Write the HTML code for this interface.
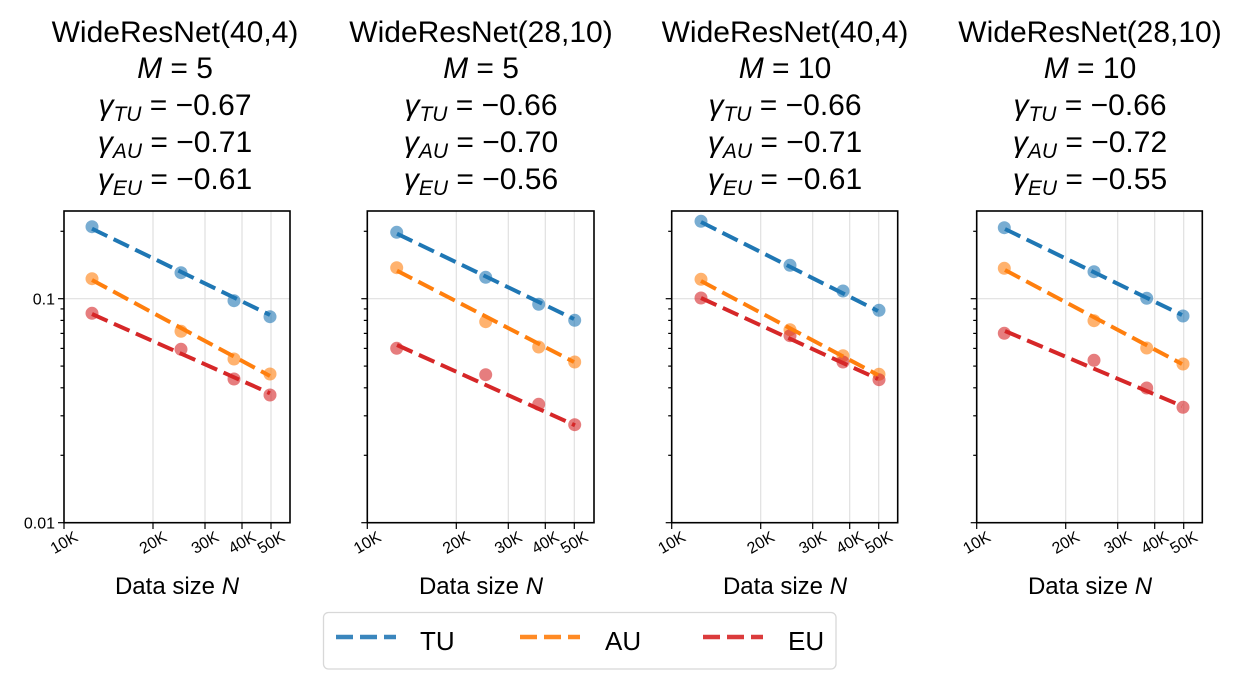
<!DOCTYPE html>
<html><head><meta charset="utf-8"><style>
body{margin:0;background:#fff;}
svg{display:block;font-family:"Liberation Sans","DejaVu Sans",sans-serif;}
.t{font-size:30px;text-anchor:middle;fill:#000}
.tk{font-size:16px;fill:#000}
.xl{font-size:24px;text-anchor:middle}
</style></head><body>
<svg width="1249" height="684" viewBox="0 0 1249 684" xmlns="http://www.w3.org/2000/svg">
<defs>
<g id="yticks">
<line x1="-3.5" x2="0" y1="455.3" y2="455.3"/><line x1="-3.5" x2="0" y1="415.8" y2="415.8"/>
<line x1="-3.5" x2="0" y1="387.8" y2="387.8"/><line x1="-3.5" x2="0" y1="366.1" y2="366.1"/>
<line x1="-3.5" x2="0" y1="348.4" y2="348.4"/><line x1="-3.5" x2="0" y1="333.4" y2="333.4"/>
<line x1="-3.5" x2="0" y1="320.4" y2="320.4"/><line x1="-3.5" x2="0" y1="308.9" y2="308.9"/>
<line x1="-3.5" x2="0" y1="231.3" y2="231.3"/>
<line x1="-6" x2="0" y1="298.7" y2="298.7"/><line x1="-6" x2="0" y1="522.7" y2="522.7"/>
</g>
<g id="axbits">
<g stroke="#e0e0e0" stroke-width="1.2"><line x1="89" x2="89" y1="211" y2="522.7"/><line x1="141" x2="141" y1="211" y2="522.7"/><line x1="178" x2="178" y1="211" y2="522.7"/><line x1="207" x2="207" y1="211" y2="522.7"/><line x1="0" x2="226" y1="298.7" y2="298.7"/></g>
<g stroke="#000" stroke-width="1.2"><use href="#yticks"/><line x1="0" x2="0" y1="522.7" y2="529"/><line x1="89" x2="89" y1="522.7" y2="529"/><line x1="141" x2="141" y1="522.7" y2="529"/><line x1="178" x2="178" y1="522.7" y2="529"/><line x1="207" x2="207" y1="522.7" y2="529"/></g>
<g class="tk" text-anchor="end">
<text transform="translate(15,540) rotate(-30)">10K</text>
<text transform="translate(104,540) rotate(-30)">20K</text>
<text transform="translate(156,540) rotate(-30)">30K</text>
<text transform="translate(193,540) rotate(-30)">40K</text>
<text transform="translate(222,540) rotate(-30)">50K</text>
</g>
</g>
</defs>
<use href="#axbits" transform="translate(64,0)"/>
<use href="#axbits" transform="translate(367.3,0)"/>
<use href="#axbits" transform="translate(671.7,0)"/>
<use href="#axbits" transform="translate(976.7,0)"/>

<g fill-opacity="0.6">
<g fill="#1f77b4"><circle cx="92" cy="226.7" r="6.5"/><circle cx="181" cy="272.7" r="6.5"/><circle cx="234" cy="300.7" r="6.5"/><circle cx="270" cy="316.7" r="6.5"/></g>
<g fill="#ff7f0e"><circle cx="92" cy="278.7" r="6.5"/><circle cx="181" cy="331.3" r="6.5"/><circle cx="234" cy="359" r="6.5"/><circle cx="270" cy="374" r="6.5"/></g>
<g fill="#d62728"><circle cx="92" cy="313.3" r="6.5"/><circle cx="181" cy="349.3" r="6.5"/><circle cx="234" cy="379" r="6.5"/><circle cx="270" cy="395" r="6.5"/></g>

<g fill="#1f77b4"><circle cx="396.7" cy="232.3" r="6.5"/><circle cx="485.7" cy="277.3" r="6.5"/><circle cx="538.7" cy="304.3" r="6.5"/><circle cx="574.7" cy="320.3" r="6.5"/></g>
<g fill="#ff7f0e"><circle cx="396.7" cy="267.7" r="6.5"/><circle cx="485.7" cy="321.7" r="6.5"/><circle cx="538.7" cy="347" r="6.5"/><circle cx="574.7" cy="362" r="6.5"/></g>
<g fill="#d62728"><circle cx="396.7" cy="348.3" r="6.5"/><circle cx="485.7" cy="374.7" r="6.5"/><circle cx="538.7" cy="404.3" r="6.5"/><circle cx="574.7" cy="424.7" r="6.5"/></g>

<g fill="#1f77b4"><circle cx="701" cy="221.3" r="6.5"/><circle cx="790" cy="265.3" r="6.5"/><circle cx="843" cy="291" r="6.5"/><circle cx="879" cy="310.3" r="6.5"/></g>
<g fill="#ff7f0e"><circle cx="701" cy="279.3" r="6.5"/><circle cx="790" cy="329.7" r="6.5"/><circle cx="843" cy="355.7" r="6.5"/><circle cx="879" cy="374.3" r="6.5"/></g>
<g fill="#d62728"><circle cx="701" cy="298" r="6.5"/><circle cx="790" cy="335.7" r="6.5"/><circle cx="843" cy="362" r="6.5"/><circle cx="879" cy="379.7" r="6.5"/></g>

<g fill="#1f77b4"><circle cx="1004.3" cy="227.7" r="6.5"/><circle cx="1094" cy="271.7" r="6.5"/><circle cx="1146.7" cy="298.3" r="6.5"/><circle cx="1183" cy="316" r="6.5"/></g>
<g fill="#ff7f0e"><circle cx="1004.3" cy="268.3" r="6.5"/><circle cx="1094" cy="320.7" r="6.5"/><circle cx="1146.7" cy="348" r="6.5"/><circle cx="1183" cy="364" r="6.5"/></g>
<g fill="#d62728"><circle cx="1004.3" cy="333.3" r="6.5"/><circle cx="1094" cy="360.3" r="6.5"/><circle cx="1146.7" cy="388" r="6.5"/><circle cx="1183" cy="407.3" r="6.5"/></g>
</g>

<g stroke-width="4" stroke-dasharray="17 7" fill="none">
<line stroke="#1f77b4" x1="92" y1="228.7" x2="270" y2="315"/>
<line stroke="#ff7f0e" x1="92" y1="280" x2="270" y2="376"/>
<line stroke="#d62728" x1="92" y1="314" x2="270" y2="393.3"/>
<line stroke="#1f77b4" x1="397" y1="233.7" x2="574" y2="319"/>
<line stroke="#ff7f0e" x1="397" y1="270.7" x2="574" y2="362"/>
<line stroke="#d62728" x1="397" y1="345" x2="575" y2="425.3"/>
<line stroke="#1f77b4" x1="701" y1="222" x2="878" y2="311"/>
<line stroke="#ff7f0e" x1="701" y1="281" x2="878" y2="375"/>
<line stroke="#d62728" x1="701" y1="298" x2="878" y2="379"/>
<line stroke="#1f77b4" x1="1005" y1="229" x2="1182" y2="315"/>
<line stroke="#ff7f0e" x1="1005" y1="270" x2="1182" y2="364"/>
<line stroke="#d62728" x1="1005" y1="331" x2="1182" y2="406"/>
</g>

<g fill="none" stroke="#000" stroke-width="1.6">
<rect x="64" y="211" width="226" height="311.7"/>
<rect x="367.3" y="211" width="226.7" height="311.7"/>
<rect x="671.7" y="211" width="226" height="311.7"/>
<rect x="976.7" y="211" width="225.6" height="311.7"/>
</g>

<text class="tk" x="55" y="304.5" text-anchor="end">0.1</text>
<text class="tk" x="55" y="528.5" text-anchor="end">0.01</text>

<text class="xl" x="177" y="594">Data size <tspan font-style="italic">N</tspan></text>
<text class="xl" x="481" y="594">Data size <tspan font-style="italic">N</tspan></text>
<text class="xl" x="785" y="594">Data size <tspan font-style="italic">N</tspan></text>
<text class="xl" x="1090" y="594">Data size <tspan font-style="italic">N</tspan></text>

<g class="t">
<text x="175" y="42">WideResNet(40,4)</text>
<text x="175" y="78"><tspan font-style="italic">M</tspan> = 5</text>
<text x="175" y="115"><tspan font-style="italic">γ</tspan><tspan font-style="italic" font-size="21" dy="6">TU</tspan><tspan dy="-6"> = −0.67</tspan></text>
<text x="175" y="152"><tspan font-style="italic">γ</tspan><tspan font-style="italic" font-size="21" dy="6">AU</tspan><tspan dy="-6"> = −0.71</tspan></text>
<text x="175" y="189"><tspan font-style="italic">γ</tspan><tspan font-style="italic" font-size="21" dy="6">EU</tspan><tspan dy="-6"> = −0.61</tspan></text>

<text x="481" y="42">WideResNet(28,10)</text>
<text x="481" y="78"><tspan font-style="italic">M</tspan> = 5</text>
<text x="481" y="115"><tspan font-style="italic">γ</tspan><tspan font-style="italic" font-size="21" dy="6">TU</tspan><tspan dy="-6"> = −0.66</tspan></text>
<text x="481" y="152"><tspan font-style="italic">γ</tspan><tspan font-style="italic" font-size="21" dy="6">AU</tspan><tspan dy="-6"> = −0.70</tspan></text>
<text x="481" y="189"><tspan font-style="italic">γ</tspan><tspan font-style="italic" font-size="21" dy="6">EU</tspan><tspan dy="-6"> = −0.56</tspan></text>

<text x="785" y="42">WideResNet(40,4)</text>
<text x="785" y="78"><tspan font-style="italic">M</tspan> = 10</text>
<text x="785" y="115"><tspan font-style="italic">γ</tspan><tspan font-style="italic" font-size="21" dy="6">TU</tspan><tspan dy="-6"> = −0.66</tspan></text>
<text x="785" y="152"><tspan font-style="italic">γ</tspan><tspan font-style="italic" font-size="21" dy="6">AU</tspan><tspan dy="-6"> = −0.71</tspan></text>
<text x="785" y="189"><tspan font-style="italic">γ</tspan><tspan font-style="italic" font-size="21" dy="6">EU</tspan><tspan dy="-6"> = −0.61</tspan></text>

<text x="1090" y="42">WideResNet(28,10)</text>
<text x="1090" y="78"><tspan font-style="italic">M</tspan> = 10</text>
<text x="1090" y="115"><tspan font-style="italic">γ</tspan><tspan font-style="italic" font-size="21" dy="6">TU</tspan><tspan dy="-6"> = −0.66</tspan></text>
<text x="1090" y="152"><tspan font-style="italic">γ</tspan><tspan font-style="italic" font-size="21" dy="6">AU</tspan><tspan dy="-6"> = −0.72</tspan></text>
<text x="1090" y="189"><tspan font-style="italic">γ</tspan><tspan font-style="italic" font-size="21" dy="6">EU</tspan><tspan dy="-6"> = −0.55</tspan></text>
</g>

<rect x="323.5" y="612.5" width="512.5" height="56.5" rx="5" fill="#fff" stroke="#d8d8d8" stroke-width="1.3"/>
<g stroke-width="4.5" stroke-dasharray="17 7">
<line stroke="#3a86bd" x1="336" x2="396" y1="637" y2="637"/>
<line stroke="#ff8a24" x1="520" x2="580" y1="637" y2="637"/>
<line stroke="#db3b3c" x1="703" x2="763" y1="637" y2="637"/>
</g>
<g font-size="26">
<text x="420" y="650">TU</text>
<text x="605" y="650">AU</text>
<text x="788" y="650">EU</text>
</g>
</svg>
</body></html>
